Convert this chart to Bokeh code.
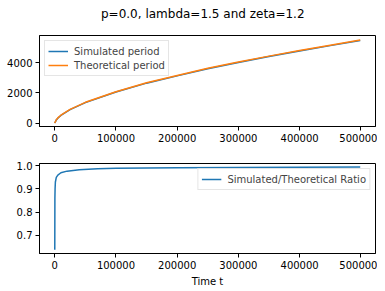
from bokeh.plotting import figure
from bokeh.layouts import column
from bokeh.models import Range1d, FixedTicker, PrintfTickFormatter, Legend, LegendItem, Div
from bokeh.embed import file_html
from bokeh.resources import INLINE

# ---- data ----
t_period = [0, 200, 1000, 2500, 5000, 10000, 25000, 50000, 100000, 150000,
            200000, 250000, 300000, 350000, 400000, 450000, 499000]
theoretical_period = [0, 40, 95, 230, 347, 526, 912, 1381, 2085, 2675,
                      3158, 3630, 4050, 4440, 4812, 5165, 5500]
simulated_period = [0, 34, 88, 218, 333, 510, 894, 1360, 2064, 2650,
                    3133, 3604, 4022, 4414, 4783, 5135, 5472]

t_ratio = [0, 200, 500, 1000, 2500, 5000, 10000, 20000, 40000, 70000,
           100000, 150000, 200000, 300000, 400000, 499000]
ratio = [0.637, 0.86, 0.90, 0.93, 0.95, 0.96, 0.97, 0.977, 0.983, 0.987,
         0.989, 0.991, 0.992, 0.993, 0.994, 0.995]

x_ticks = [0, 100000, 200000, 300000, 400000, 500000]
y_ticks_top = [0, 2000, 4000]
y_ticks_bottom = [0.7, 0.8, 0.9, 1.0]

title_text = "p=0.0, lambda=1.5 and zeta=1.2"

BLUE = "#1f77b4"
ORANGE = "#ff7f0e"
FONT = "DejaVu Sans"


def style(p):
    p.outline_line_color = "black"
    p.outline_line_width = 1
    p.outline_line_alpha = 1
    p.xgrid.visible = False
    p.ygrid.visible = False
    for ax in (p.xaxis[0], p.yaxis[0]):
        ax.major_tick_out = 4
        ax.major_tick_in = 0
        ax.minor_tick_out = 0
        ax.minor_tick_in = 0
        ax.major_label_standoff = 3
        ax.major_label_text_font = FONT
        ax.major_label_text_font_size = "10px"
        ax.major_label_text_color = "black"
        ax.axis_line_color = "black"
        ax.major_tick_line_color = "black"
        ax.axis_label_text_font = FONT
        ax.axis_label_text_font_size = "10px"
        ax.axis_label_text_font_style = "normal"
        ax.axis_label_text_color = "black"
    p.xaxis[0].ticker = FixedTicker(ticks=x_ticks)
    p.xaxis[0].formatter = PrintfTickFormatter(format="%d")


def make_legend(items, loc):
    lg = Legend(items=items, location=loc)
    lg.label_text_font = FONT
    lg.label_text_font_size = "10px"
    lg.label_height = 14
    lg.glyph_height = 14
    lg.glyph_width = 20
    lg.spacing = 0
    lg.padding = 3
    lg.margin = 5
    lg.label_standoff = 6
    lg.border_line_color = "#cccccc"
    lg.background_fill_alpha = 0.8
    return lg


# ---- title ----
title_div = Div(text=title_text, width=377, height=28, margin=0,
                styles={"font-family": FONT, "font-size": "12px",
                        "line-height": "28px", "color": "black",
                        "text-align": "left", "padding-left": "101px",
                        "white-space": "nowrap"})

# ---- top figure ----
p1 = figure(frame_width=336, frame_height=91, output_backend="svg",
            toolbar_location=None,
            x_range=Range1d(-24950, 523950), y_range=Range1d(-220, 5805),
            min_border_left=39, min_border_right=2, min_border_top=7,
            min_border_bottom=19)
r1 = p1.line(t_period, simulated_period, line_color=BLUE, line_width=1.5)
r2 = p1.line(t_period, theoretical_period, line_color=ORANGE, line_width=1.5)
style(p1)
p1.yaxis[0].ticker = FixedTicker(ticks=y_ticks_top)
p1.add_layout(make_legend([LegendItem(label="Simulated period", renderers=[r1]),
                           LegendItem(label="Theoretical period", renderers=[r2])],
                          "top_left"))

# ---- bottom figure ----
p2 = figure(frame_width=336, frame_height=90, output_backend="svg",
            toolbar_location=None,
            x_range=Range1d(-24950, 523950), y_range=Range1d(0.621, 1.010),
            min_border_left=39, min_border_right=2, min_border_top=18,
            min_border_bottom=30)
r3 = p2.line(t_ratio, ratio, line_color=BLUE, line_width=1.5)
style(p2)
p2.yaxis[0].ticker = FixedTicker(ticks=y_ticks_bottom)
p2.yaxis[0].formatter = PrintfTickFormatter(format="%.1f")
p2.xaxis[0].axis_label = "Time t"
p2.xaxis[0].axis_label_standoff = 4
p2.add_layout(make_legend([LegendItem(label="Simulated/Theoretical Ratio", renderers=[r3])],
                          "top_right"))

layout = column(title_div, p1, p2, spacing=0)
open("out.html", "w").write(file_html(layout, INLINE))
